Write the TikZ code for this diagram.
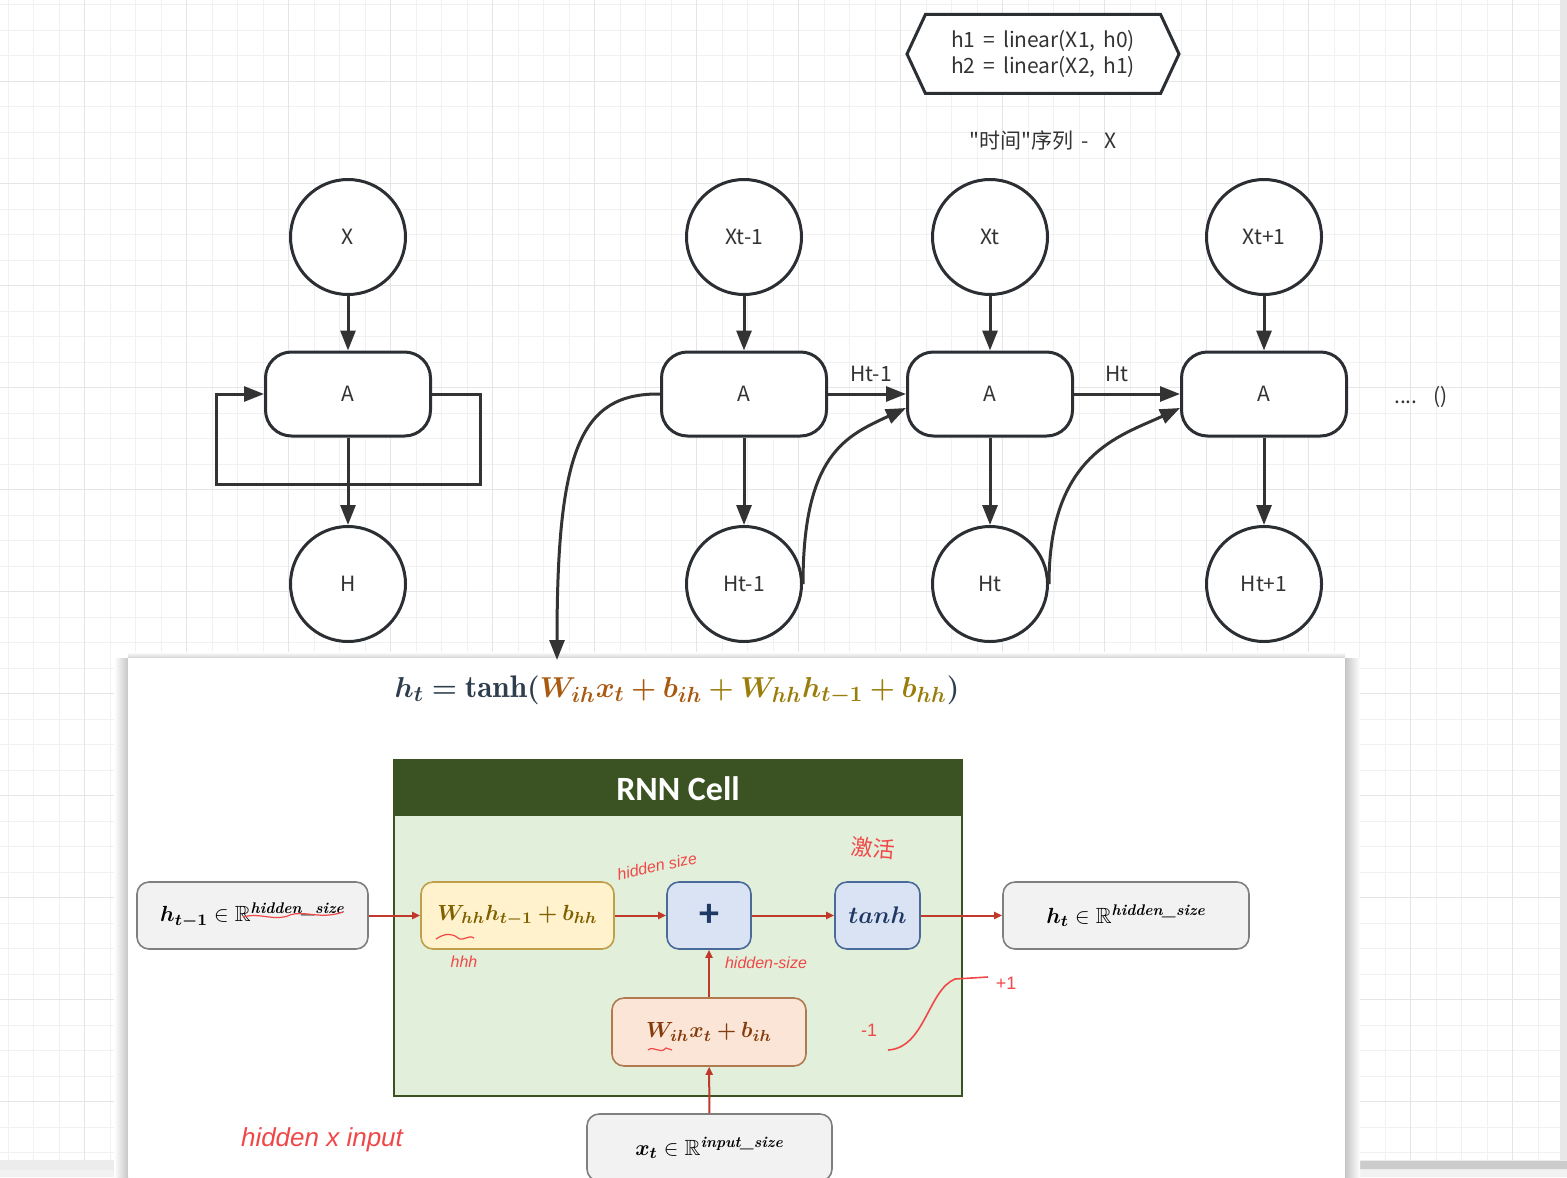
\documentclass[tikz,border=0pt]{standalone}
\usepackage{fontspec}
\usepackage{amsmath,amssymb,bm}
\usetikzlibrary{arrows.meta,shapes.symbols}
\newfontfamily\cjk{Noto Sans CJK SC}[WordSpace=1.7]
\newfontfamily\hand{Liberation Sans}
\newfontfamily\titlefont{Carlito}
\definecolor{inkc}{HTML}{2B2F33}
\definecolor{textgray}{HTML}{333333}
\definecolor{gridminor}{HTML}{F1F1F1}
\definecolor{gridmajor}{HTML}{E5E5E5}
\definecolor{cellhead}{HTML}{3B5323}
\definecolor{cellbody}{HTML}{E2EFDA}
\definecolor{flowred}{HTML}{C0392B}
\definecolor{handred}{HTML}{F04848}
\definecolor{grayfill}{HTML}{F2F2F2}
\definecolor{grayedge}{HTML}{7F7F7F}
\definecolor{yelfill}{HTML}{FFF2CC}
\definecolor{yeledge}{HTML}{BF9F4A}
\definecolor{bluefill}{HTML}{DAE3F3}
\definecolor{blueedge}{HTML}{4A6A9A}
\definecolor{orgfill}{HTML}{FBE5D6}
\definecolor{orgedge}{HTML}{B07A50}
\definecolor{eqdark}{HTML}{2F3E4E}
\definecolor{eqbrown}{HTML}{A85A10}
\definecolor{eqolive}{HTML}{9A7D0A}
\definecolor{boxbrown}{HTML}{843C0C}
\definecolor{boxolive}{HTML}{7F6000}
\definecolor{boxblue}{HTML}{1F3864}

\begin{document}
\begin{tikzpicture}[x=0.5pt, y=-0.5pt,
    mycircle/.style={circle, draw=inkc, line width=1.5pt, fill=white, minimum size=57.5pt, inner sep=0pt, font=\cjk\fontsize{10.5}{13}\selectfont, text=textgray},
    mycell/.style={rectangle, rounded corners=13pt, draw=inkc, line width=1.5pt, fill=white, minimum width=82.5pt, minimum height=42pt, font=\cjk\fontsize{10.5}{13}\selectfont, text=textgray},
    myedge/.style={-{Triangle[length=10pt, width=7.5pt]}, line width=1.5pt, draw=textgray},
    mylabel/.style={font=\cjk\fontsize{10.5}{13}\selectfont, text=textgray},
    mybox/.style={rectangle, rounded corners=6pt, line width=0.8pt, minimum height=33.5pt, inner sep=0pt, font=\fontsize{11}{13}\selectfont},
    redarrow/.style={-{Triangle[length=4pt, width=3.5pt]}, line width=1pt, draw=flowred},
    handnote/.style={font=\hand\itshape\fontsize{8}{9}\selectfont, text=handred, inner sep=0pt}
]
    \useasboundingbox (0,0) rectangle (1567,1177);
    \fill[white] (0,0) rectangle (1567,1177);

    % canvas grid
    \foreach \gx in {0,...,61}
        \draw[gridminor, line width=0.5pt] ({8+25.5*\gx},0) -- ({8+25.5*\gx},1177);
    \foreach \gy in {0,...,46}
        \draw[gridminor, line width=0.5pt] (0,{5+25.5*\gy}) -- (1567,{5+25.5*\gy});
    \foreach \gx in {0,...,14}
        \draw[gridmajor, line width=0.7pt] ({84.5+102*\gx},0) -- ({84.5+102*\gx},1177);
    \foreach \gy in {0,...,10}
        \draw[gridmajor, line width=0.7pt] (0,{81.5+102*\gy}) -- (1567,{81.5+102*\gy});

    % scroll bars
    \fill[gray!18] (1560,0) rectangle (1567,1160);
    \fill[gray!15] (0,1160) rectangle (1567,1170);
    \fill[gray!40] (1345,1161) rectangle (1567,1169);
    \fill[grayfill] (0,1170) rectangle (1567,1177);

    % pasted screenshot
    \shade[left color=white, right color=gray!45] (114,658) rectangle (128,1177);
    \shade[left color=gray!45, right color=white] (1345,658) rectangle (1360,1177);
    \shade[top color=white, bottom color=gray!35] (128,652) rectangle (1345,658);
    \fill[white] (128,658) rectangle (1345,1177);

    % note and title
    \node[signal, signal to=west and east, signal pointer angle=130, draw=inkc, line width=1.5pt, fill=white,
          minimum width=136pt, minimum height=39.5pt, align=center, mylabel] (note) at (1043,54)
          {h1 = linear(X1, h0)\\h2 = linear(X2, h1)};
    \node[mylabel] (seq) at (1043,141) {"时间"序列 -\ \ X};

    % folded RNN
    \node[mycircle] (x0) at (348,237) {X};
    \node[mycell] (a0) at (348,394) {A};
    \node[mycircle] (h0) at (348,584) {H};
    \draw[myedge] (x0) -- (a0);
    \draw[myedge] (a0) -- (h0);
    \draw[myedge] (a0.east) -| (480,484) -| (216,394) -- (a0.west);

    % unrolled RNN
    \node[mycircle] (x1) at (744,237) {Xt-1};
    \node[mycircle] (x2) at (990,237) {Xt};
    \node[mycircle] (x3) at (1264,237) {Xt+1};
    \node[mycell] (a1) at (744,394) {A};
    \node[mycell] (a2) at (990,394) {A};
    \node[mycell] (a3) at (1264,394) {A};
    \node[mycircle] (h1) at (744,584) {Ht-1};
    \node[mycircle] (h2) at (990,584) {Ht};
    \node[mycircle] (h3) at (1264,584) {Ht+1};
    \node[mylabel] (dots) at (1421,397) {....\ \ ()};

    \draw[myedge] (x1) -- (a1);
    \draw[myedge] (x2) -- (a2);
    \draw[myedge] (x3) -- (a3);
    \draw[myedge] (a1) -- (h1);
    \draw[myedge] (a2) -- (h2);
    \draw[myedge] (a3) -- (h3);
    \draw[myedge] (a1) -- node[mylabel, above=2pt, xshift=2pt] {Ht-1} (a2);
    \draw[myedge] (a2) -- node[mylabel, above=2pt, xshift=-5pt] {Ht} (a3);
    \draw[myedge] (h1.east) .. controls +(0,-130) and +(-60,28) .. ([yshift=-7pt]a2.west);
    \draw[myedge] (h2.east) .. controls +(0,-130) and +(-60,28) .. ([yshift=-7pt]a3.west);
    \coordinate (drop) at (557,660);
    \draw[myedge] (a1.west) .. controls (580,393) and (557,450) .. (drop);

    % formula
    \node[font=\fontsize{15.6}{18}\selectfont] (eq) at (677,690)
        {$\color{eqdark}\bm{h_t} \mathrel{\bm{=}} \bm{\tanh(} \color{eqbrown}\bm{W_{ih}x_t} \mathbin{\bm{+}} \bm{b_{ih}}
          \color{eqolive}\mathbin{\bm{+}} \bm{W_{hh}h_{t-1}} \mathbin{\bm{+}} \bm{b_{hh}}\color{eqdark}\bm{)}$};

    % RNN cell
    \draw[draw=cellhead, line width=1pt, fill=cellbody] (394,760) rectangle (962,1096);
    \fill[cellhead] (394,760) rectangle (962,816);
    \node[font=\titlefont\bfseries\fontsize{17}{20}\selectfont, text=white] (title) at (678,789) {RNN Cell};

    \node[mybox, fill=grayfill, draw=grayedge, minimum width=115.5pt] (hin) at (252.5,915.5)
        {$\bm{h_{t-1}} \in \mathbb{R}^{\text{\bfseries\itshape hidden\_size}}$};
    \node[mybox, fill=yelfill, draw=yeledge, minimum width=96.5pt, text=boxolive] (whh) at (517.5,915.5)
        {$\bm{W_{hh}h_{t-1}} \mathbin{\bm{+}} \bm{b_{hh}}$};
    \node[mybox, fill=bluefill, draw=blueedge, minimum width=42pt, text=boxblue, font=\titlefont\bfseries\fontsize{20}{22}\selectfont] (plus) at (709,915.5)
        {+};
    \node[mybox, fill=bluefill, draw=blueedge, minimum width=42.5pt, text=boxblue, font=\fontsize{13}{15}\selectfont] (tanh) at (877.5,915.5)
        {$\bm{tanh}$};
    \node[mybox, fill=grayfill, draw=grayedge, minimum width=123pt] (hout) at (1126,915.5)
        {$\bm{h_t} \in \mathbb{R}^{\text{\bfseries\itshape hidden\_size}}$};
    \node[mybox, fill=orgfill, draw=orgedge, minimum width=97pt, minimum height=34pt, text=boxbrown] (wih) at (709,1032)
        {$\bm{W_{ih}x_t} \mathbin{\bm{+}} \bm{b_{ih}}$};
    \node[mybox, fill=grayfill, draw=grayedge, minimum width=122.5pt] (xin) at (709.5,1147.5)
        {$\bm{x_t} \in \mathbb{R}^{\text{\bfseries\itshape input\_size}}$};

    \draw[redarrow] (hin) -- (whh);
    \draw[redarrow] (whh) -- (plus);
    \draw[redarrow] (plus) -- (tanh);
    \draw[redarrow] (tanh) -- (hout);
    \draw[redarrow] (wih) -- (plus);
    \draw[redarrow] (xin) -- (wih);

    % handwritten notes
    \draw[handred, line width=0.6pt] (243,917) .. controls (260,912) and (275,922) .. (290,915) .. controls (305,910) and (320,920) .. (343,912);
    \draw[handred, line width=0.6pt] (436,939) .. controls (445,933) and (452,933) .. (458,938) .. controls (464,942) and (468,934) .. (474,938);
    \draw[handred, line width=0.6pt] (648,1050) .. controls (654,1045) and (660,1055) .. (666,1048) -- (672,1050);
    \node[handnote, rotate=12] (n1) at (657,866) {hidden size};
    \node[handnote] (n2) at (464,962) {hhh};
    \node[handnote] (n3) at (766,963) {hidden-size};
    \node[font=\cjk\fontsize{11}{12}\selectfont, text=handred, rotate=-5] (n4) at (873,848) {激活};
    \node[handnote, font=\hand\fontsize{9}{10}\selectfont] (n5) at (869,1030) {-1};
    \node[handnote, font=\hand\fontsize{9}{10}\selectfont] (n6) at (1006,983) {+1};
    \draw[handred, line width=0.8pt] (888,1050) .. controls (925,1048) and (928,990) .. (955,979) -- (988,977);
    \node[handnote, font=\hand\itshape\fontsize{13}{15}\selectfont] (n7) at (322,1140) {hidden x input};
\end{tikzpicture}
\end{document}
